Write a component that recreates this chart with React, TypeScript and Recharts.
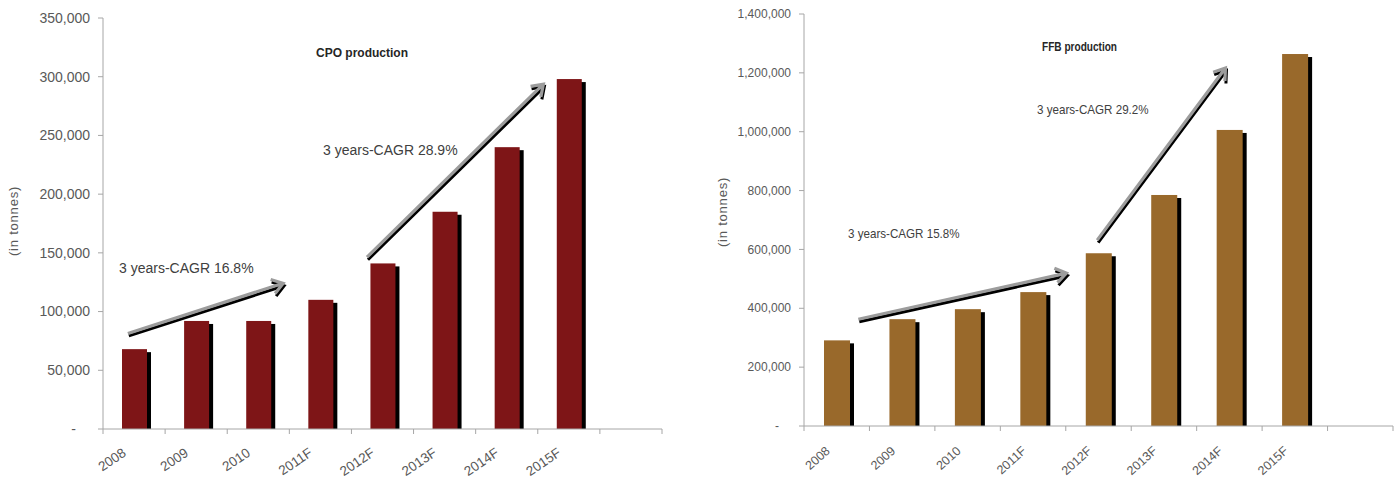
import React from "react";
import { BarChart, Bar, XAxis, YAxis, ReferenceLine } from "recharts";

const years = ["2008", "2009", "2010", "2011F", "2012F", "2013F", "2014F", "2015F", ""];
const cpo = [68000, 92000, 92000, 110000, 141000, 185000, 240000, 298000, null];
const ffb = [291000, 363000, 397000, 455000, 587000, 785000, 1006000, 1264000, null];
const cpoTicks = [0, 50000, 100000, 150000, 200000, 250000, 300000, 350000];
const ffbTicks = [0, 200000, 400000, 600000, 800000, 1000000, 1200000, 1400000];

// trend arrows: [x in category units, value]
const cpoArrows = [
  [[0.4, 81400], [2.9, 124100]],
  [[4.25, 146300], [7.09, 293700]],
];
const ffbArrows = [
  [[0.83, 362900], [4.01, 519300]],
  [[4.48, 631600], [6.44, 1216600]],
];

const axisGray = "#a6a6a6";
const tickText = "#595959";
const font = "'Liberation Sans', Arial, sans-serif";

const ShadowBar = (p: any) => {
  const { x, y, width, height, fill } = p;
  if (!height || height <= 0) return null;
  return (
    <g>
      <rect x={x + 4} y={y + 3} width={width} height={Math.max(0, height - 3)} fill="#000" />
      <rect x={x} y={y} width={width} height={height} fill={fill} />
    </g>
  );
};

const arrowParts = (x1: number, y1: number, x2: number, y2: number) => {
  const a = Math.atan2(y2 - y1, x2 - x1);
  const len = 13;
  const spread = 0.6;
  const l = [x2 - len * Math.cos(a - spread), y2 - len * Math.sin(a - spread)];
  const r = [x2 - len * Math.cos(a + spread), y2 - len * Math.sin(a + spread)];
  return `M${x1},${y1} L${x2},${y2} M${l[0]},${l[1]} L${x2},${y2} L${r[0]},${r[1]}`;
};

const Arrow = (p: any) => {
  const d = arrowParts(p.x1, p.y1, p.x2, p.y2);
  return (
    <g>
      <path d={d} transform="translate(1,2.5)" stroke="#000" strokeWidth={3} fill="none" />
      <path d={d} stroke="#9c9c9c" strokeWidth={3.2} fill="none" />
    </g>
  );
};

const makeXTick = (angle: number, size: number, n: number, dx: number, dy: number) => (p: any) => {
  const { x, y, payload, index } = p;
  const half = payload.offset ?? 31;
  const tx = x + dx;
  const ty = y + dy;
  return (
    <g>
      <line x1={x - half} y1={y} x2={x - half} y2={y + 5} stroke={axisGray} />
      {index === n - 1 && <line x1={x + half} y1={y} x2={x + half} y2={y + 5} stroke={axisGray} />}
      <text
        x={tx}
        y={ty}
        textAnchor="end"
        transform={`rotate(${angle}, ${tx}, ${ty})`}
        fill={tickText}
        fontSize={size}
        fontFamily={font}
      >
        {payload.value}
      </text>
    </g>
  );
};

const makeYTick = (size: number, dash: number) => (p: any) => {
  const { x, y, payload } = p;
  const v = payload.value;
  return (
    <text x={v === 0 ? x - dash : x} y={y} dy={size * 0.35} textAnchor="end" fill={tickText} fontSize={size} fontFamily={font}>
      {v === 0 ? "-" : v.toLocaleString("en-US")}
    </text>
  );
};

type PanelProps = {
  values: (number | null)[];
  ticks: number[];
  arrows: number[][][];
  color: string;
  width: number;
  margin: any;
  yWidth: number;
  xHeight: number;
  barSize: number;
  fontSize: number;
  xFont: number;
  xAngle: number;
  xdx: number;
  xdy: number;
  dash: number;
};

const Panel = (props: PanelProps) => {
  const data = years.map((year, i) => ({ year, pos: i + 0.5, value: props.values[i] }));
  const max = props.ticks[props.ticks.length - 1];
  return (
    <BarChart width={props.width} height={480} data={data} margin={props.margin}>
      <XAxis
        xAxisId="c"
        dataKey="year"
        height={props.xHeight}
        stroke={axisGray}
        tickLine={false}
        tickSize={0}
        tickMargin={0}
        interval={0}
        tick={makeXTick(props.xAngle, props.xFont, years.length, props.xdx, props.xdy)}
      />
      <XAxis
        xAxisId="n"
        dataKey="pos"
        type="number"
        domain={[0, years.length]}
        allowDataOverflow
        padding={{ left: 0, right: 0 }}
        hide
      />
      <YAxis
        width={props.yWidth}
        domain={[0, max]}
        ticks={props.ticks}
        interval={0}
        stroke={axisGray}
        tickSize={5}
        tickMargin={8}
        tick={makeYTick(props.fontSize, props.dash)}
      />
      <Bar xAxisId="c" dataKey="value" fill={props.color} barSize={props.barSize} shape={ShadowBar} isAnimationActive={false} />
      {props.arrows.map((a, i) => (
        <ReferenceLine
          key={i}
          xAxisId="n"
          ifOverflow="visible"
          segment={[{ x: a[0][0], y: a[0][1] }, { x: a[1][0], y: a[1][1] }]}
          shape={Arrow}
        />
      ))}
    </BarChart>
  );
};

const label = (text: string, left: number, top: number, size: number, extra: any = {}) => (
  <div
    style={{
      position: "absolute",
      left,
      top,
      fontSize: size,
      lineHeight: 1,
      whiteSpace: "nowrap",
      fontFamily: font,
      color: "#404040",
      transformOrigin: "0 50%",
      ...extra,
    }}
  >
    {text}
  </div>
);

const yLabel = (cx: number, cy: number) => (
  <div
    style={{
      position: "absolute",
      left: cx,
      top: cy,
      transform: "translate(-50%, -50%) rotate(-90deg)",
      fontSize: 13,
      letterSpacing: 0.8,
      whiteSpace: "nowrap",
      fontFamily: font,
      color: tickText,
    }}
  >
    (in tonnes)
  </div>
);

export default function App() {
  return (
    <div style={{ position: "absolute", left: 0, top: 0, width: 1396, height: 480, background: "#fff" }}>
      <div style={{ position: "absolute", left: 0, top: 0 }}>
        <Panel
          values={cpo}
          ticks={cpoTicks}
          arrows={cpoArrows}
          color="#7e1517"
          width={690}
          margin={{ top: 18, right: 28, bottom: 0, left: 0 }}
          yWidth={103}
          xHeight={51}
          barSize={25}
          fontSize={14}
          xFont={13.5}
          xAngle={-34}
          xdx={-7}
          xdy={26}
          dash={14}
        />
      </div>
      <div style={{ position: "absolute", left: 700, top: 0 }}>
        <Panel
          values={ffb}
          ticks={ffbTicks}
          arrows={ffbArrows}
          color="#99692b"
          width={696}
          margin={{ top: 14, right: 3, bottom: 0, left: 0 }}
          yWidth={104}
          xHeight={54}
          barSize={26}
          fontSize={12}
          xFont={12.5}
          xAngle={-42}
          xdx={-6}
          xdy={26}
          dash={12}
        />
      </div>
      {yLabel(13, 221)}
      {yLabel(722, 212)}
      {label("CPO production", 316, 47, 12, { fontWeight: "bold", color: "#262626" })}
      {label("3 years-CAGR 16.8%", 119, 261, 14)}
      {label("3 years-CAGR 28.9%", 323, 143, 14)}
      {label("FFB production", 1042, 41, 12, { fontWeight: "bold", color: "#262626", transform: "scaleX(0.84)" })}
      {label("3 years-CAGR 15.8%", 848, 227, 13.5, { transform: "scaleX(0.86)" })}
      {label("3 years-CAGR 29.2%", 1037, 103, 13.5, { transform: "scaleX(0.86)" })}
    </div>
  );
}
